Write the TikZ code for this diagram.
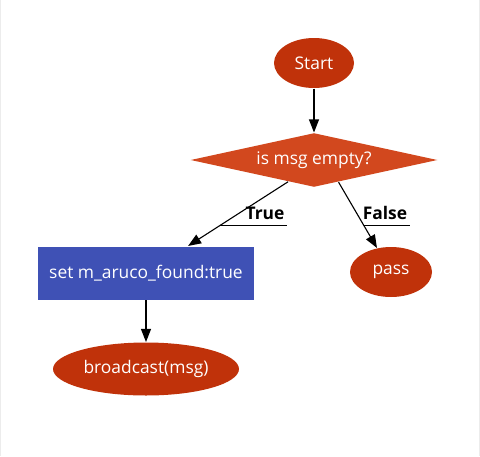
\documentclass[tikz,border=0pt]{standalone}
\usepackage{fontspec}
\setmainfont{Open Sans}
\usepackage{tikz}
\usetikzlibrary{positioning, arrows.meta, shapes.geometric, calc}

\definecolor{nodered}{RGB}{192,50,10}
\definecolor{diamondred}{RGB}{210,72,30}
\definecolor{boxblue}{RGB}{63,81,181}

\begin{document}
\begin{tikzpicture}[x=1pt, y=-1pt, >={Triangle[length=13pt, width=10pt]}, line width=1.1pt,
		every node/.style={font=\fontsize{17.4}{20}\selectfont}]
			\useasboundingbox (0,0) rectangle (480,456);
			\draw[gray!15, line width=1pt] (0.5,0) -- (0.5,456) (479.5,0) -- (479.5,456);
			\node (start) [ellipse, fill=nodered, text=white, inner sep=0pt, minimum width=80pt, minimum height=50pt] at (314,63) {Start};
			\node (check) [diamond, aspect=4.57, fill=diamondred, text=white, inner sep=0pt, minimum width=247pt, minimum height=54pt] at (314,160) {is msg empty?};
			\node (setflag) [rectangle, fill=boxblue, text=white, minimum width=216pt, minimum height=53pt] at (146,273) {set m\_aruco\_found:true};
			\node (pass) [ellipse, fill=nodered, text=white, inner sep=0pt, minimum width=82pt, minimum height=50pt] at (391,272) {pass};
			\node (bcast) [ellipse, fill=nodered, text=white, inner sep=0pt, minimum width=186pt, minimum height=53pt] at (146,369) {broadcast(msg)};
			\draw[->] (start) -- (check);
			\draw[->] (check.-140) -- coordinate[pos=0.68] (tTrue) (setflag);
			\draw[->] (check.-42) -- coordinate[pos=0.66] (tFalse) (pass);
			\draw[->] (setflag) -- (bcast);
			\node (lblTrue) [font=\fontsize{17.4}{20}\selectfont\bfseries, inner sep=2pt] at (265,213) {True};
			\node (lblFalse) [font=\fontsize{17.4}{20}\selectfont\bfseries, inner sep=2pt] at (385,213) {False};
			\draw[line width=0.9pt] (tTrue) -- (tTrue -| lblTrue.east);
			\draw[line width=0.9pt] (tFalse) -- (tFalse -| lblFalse.east);
		\end{tikzpicture}
\end{document}
